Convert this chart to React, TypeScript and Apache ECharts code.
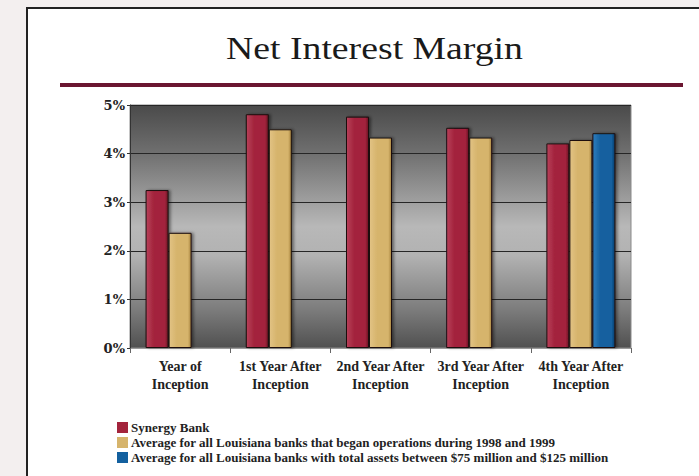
import React, { useEffect, useRef } from "react";
import * as echarts from "echarts";

const categories = [
  "Year of\nInception",
  "1st Year After\nInception",
  "2nd Year After\nInception",
  "3rd Year After\nInception",
  "4th Year After\nInception",
];
const seriesNames = [
  "Synergy Bank",
  "Average for all Louisiana banks that began operations during 1998 and 1999",
  "Average for all Louisiana banks with total assets between $75 million and $125 million",
];
const synergyBank = [3.25, 4.81, 4.76, 4.53, 4.21];
const newBanksAvg = [2.37, 4.5, 4.33, 4.33, 4.28];
const sizePeerAvg = [null, null, null, null, 4.42];
const yTicks = { min: 0, max: 5, interval: 1 };

const baseColors = ["#a3243c", "#d6b46c", "#13609f"];
const darkColors = ["#6a1224", "#a8843f", "#0a3d6b"];
const lightColors = ["#b8405a", "#e2c385", "#2e7dbd"];

function barGradient(i: number) {
  return new echarts.graphic.LinearGradient(0, 0, 1, 0, [
    { offset: 0, color: lightColors[i] },
    { offset: 0.35, color: baseColors[i] },
    { offset: 0.85, color: baseColors[i] },
    { offset: 1, color: darkColors[i] },
  ]);
}

export default function App() {
  const ref = useRef<HTMLDivElement>(null);
  useEffect(() => {
    if (!ref.current) return;
    const chart = echarts.init(ref.current, null, { renderer: "svg" });
    const data = [synergyBank, newBanksAvg, sizePeerAvg];
    chart.setOption({
      animation: false,
      backgroundColor: "transparent",
      graphic: [
        {
          type: "text",
          left: 226,
          top: 32,
          scaleX: 1.18,
          style: {
            text: "Net Interest Margin",
            font: "32px 'Liberation Serif', serif",
            fill: "#1a1a1a",
          },
        },
        {
          type: "rect",
          shape: { x: 60, y: 83, width: 623, height: 4 },
          style: { fill: "#6b1631" },
        },
      ],
      grid: {
        left: 130,
        right: 68,
        top: 105,
        bottom: 128,
        show: true,
        borderColor: "#8a8a8a",
        borderWidth: 1,
        backgroundColor: new echarts.graphic.LinearGradient(0, 0, 0, 1, [
          { offset: 0, color: "#4a4a4a" },
          { offset: 0.2, color: "#707070" },
          { offset: 0.5, color: "#b8b8b8" },
          { offset: 0.62, color: "#b2b2b2" },
          { offset: 0.85, color: "#7a7a7a" },
          { offset: 1, color: "#505050" },
        ]),
      },
      legend: {
        orient: "vertical",
        left: 112,
        top: 416,
        itemWidth: 11,
        itemHeight: 11,
        itemGap: 2,
        icon: "rect",
        textStyle: {
          fontFamily: "'Liberation Serif', serif",
          fontWeight: "bold",
          fontSize: 13,
          color: "#222",
          padding: [0, 0, 0, -2],
        },
        data: seriesNames.map((n, i) => ({
          name: n,
          itemStyle: { color: baseColors[i], borderWidth: 0 },
        })),
      },
      xAxis: {
        type: "category",
        data: categories,
        axisLine: { show: true, lineStyle: { color: "#9a9a9a", width: 1 } },
        axisTick: {
          show: true,
          length: 5,
          lineStyle: { color: "#666" },
        },
        axisLabel: {
          interval: 0,
          margin: 9,
          fontFamily: "'Liberation Serif', serif",
          fontWeight: "bold",
          fontSize: 14,
          lineHeight: 18,
          color: "#222",
        },
      },
      yAxis: {
        type: "value",
        min: yTicks.min,
        max: yTicks.max,
        interval: yTicks.interval,
        axisLine: { show: true, lineStyle: { color: "#333", width: 1 } },
        axisTick: { show: true, length: 3, lineStyle: { color: "#333" } },
        axisLabel: {
          formatter: "{value}%",
          margin: 5,
          fontFamily: "'DejaVu Serif', serif",
          fontWeight: "bold",
          fontSize: 13,
          color: "#222",
        },
        splitLine: { show: true, lineStyle: { color: "#262626", width: 1 } },
      },
      series: data.map((d, i) => ({
        name: seriesNames[i],
        type: "bar",
        data: d,
        barWidth: 23,
        barGap: "0%",
        itemStyle: {
          color: barGradient(i),
          borderColor: "#1c1010",
          borderWidth: 1,
          shadowColor: "rgba(0,0,0,0.45)",
          shadowBlur: 3,
          shadowOffsetX: 2,
          shadowOffsetY: 0,
        },
      })),
    });
    return () => chart.dispose();
  }, []);
  return (
    <div
      style={{
        position: "fixed",
        left: 0,
        top: 0,
        width: 699,
        height: 476,
        background: "#f3efef",
        overflow: "hidden",
      }}
    >
      <div
        style={{
          position: "absolute",
          left: 26,
          top: 7,
          width: 700,
          height: 500,
          background: "#ffffff",
          borderLeft: "2px solid #222",
          borderTop: "2px solid #222",
        }}
      />
      <div
        ref={ref}
        style={{ position: "absolute", left: 0, top: 0, width: 699, height: 476 }}
      />
    </div>
  );
}
